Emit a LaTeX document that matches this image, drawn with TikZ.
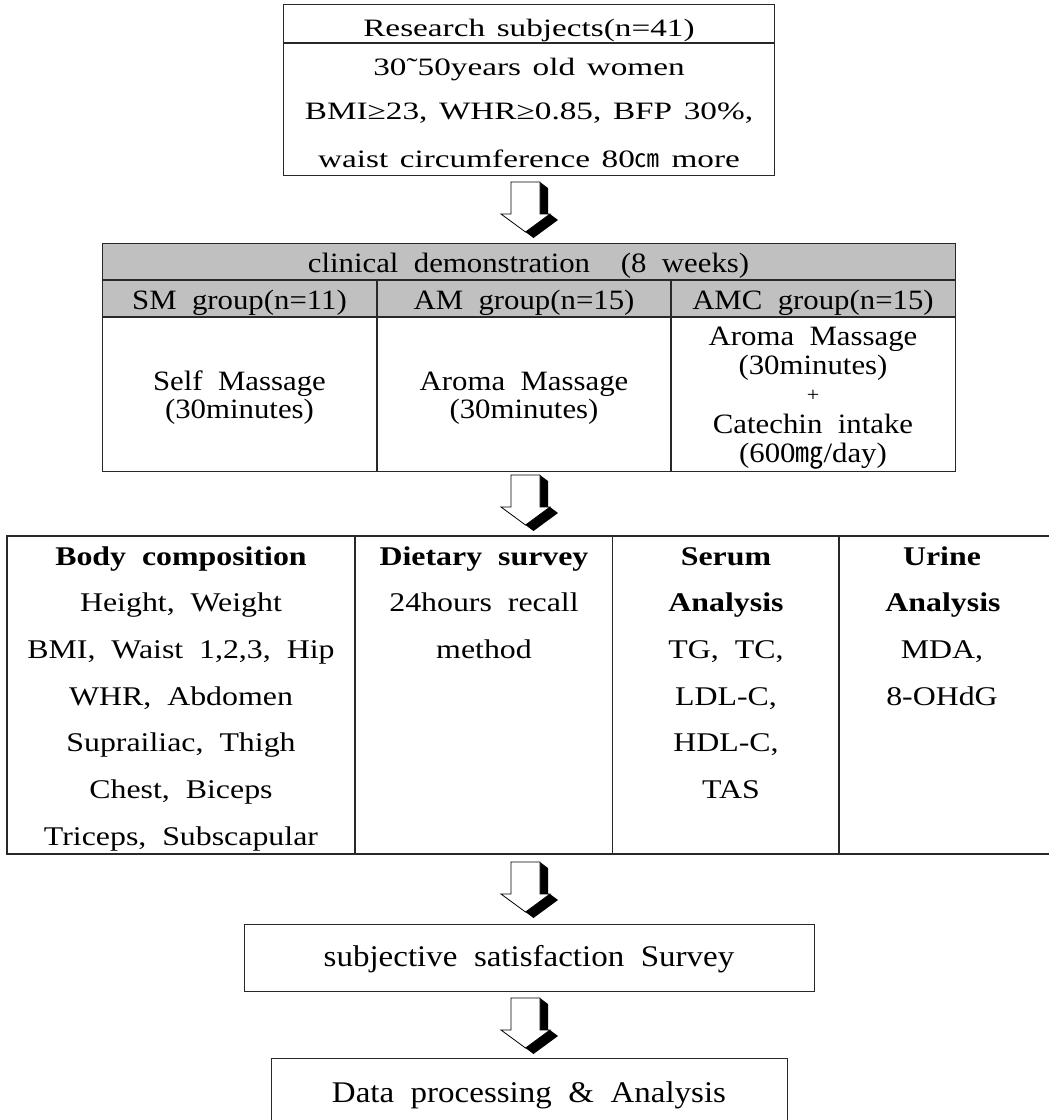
\documentclass[tikz,border=0pt]{standalone}
\usepackage{fontspec}
\setmainfont{Liberation Serif}[FakeStretch=1.1,WordSpace=2]
\newfontfamily\topfont{Liberation Serif}[FakeStretch=1.33,WordSpace=1.4]
\newfontfamily\tabfont{Liberation Serif}[FakeStretch=1.18,WordSpace=2]
\newfontfamily\cjk{Noto Sans CJK KR}
\definecolor{hdr}{RGB}{192,192,192}
\definecolor{rule}{RGB}{40,40,40}
\tikzset{
  txt/.style={inner sep=0pt, anchor=base},
  topt/.style={txt, font=\topfont\fontsize{25}{28}\selectfont},
  clin/.style={txt, font=\fontsize{28}{30}\selectfont},
  tabt/.style={txt, font=\tabfont\fontsize{27}{30}\selectfont},
  tabb/.style={txt, font=\tabfont\bfseries\fontsize{27}{30}\selectfont},
  bott/.style={txt, font=\fontsize{30}{32}\selectfont},
  frame/.style={draw=rule, line width=1.2pt},
  boxnode/.style={frame, anchor=north west, inner sep=0pt},
  barrow/.pic={
    \fill[black] (29,0) -- (37,6) -- (37,38) -- (29,32) -- cycle;
    \fill[black] (39,32) -- (47,38) -- (22.5,56) -- (14.5,50) -- cycle;
    \draw[fill=white, line width=0.8pt, line join=miter]
      (0,0) -- (29,0) -- (29,32) -- (39,32) -- (14.5,50) -- (-10,32) -- (0,32) -- cycle;
  }
}
\begin{document}
\begin{tikzpicture}[x=1pt,y=-1pt]
\useasboundingbox (0,0) rectangle (1049,1120);
\fill[white] (0,0) rectangle (1049,1120);

% ---------- top box ----------
\node[boxnode, minimum width=491pt, minimum height=171pt] (subj) at (283,4) {};
\draw[frame] (283,43) -- (774,43);
\node[topt] (subjhead) at (529,36) {Research subjects(n=41)};
\node[topt] (subj1) at (529,75) {30˜50years old women};
\node[topt] (subj2) at (529,119.5) {BMI≥23, WHR≥0.85, BFP 30\%,};
\node[topt] (subj3) at (529,167) {waist circumference 80{\cjk ㎝} more};

\pic at (511,182) {barrow};

% ---------- clinical table ----------
\fill[hdr] (102,243) rectangle (955,317);
\node[boxnode, minimum width=853pt, minimum height=228pt] (clinbox) at (102,243) {};
\draw[frame] (102,280) -- (955,280);
\draw[frame] (102,317) -- (955,317);
\draw[frame] (377,280) -- (377,471);
\draw[frame] (671,280) -- (671,471);
\node[clin] (clinhead) at (528.5,272) {clinical demonstration\ \ (8 weeks)};
\node[clin] (smg) at (239.5,309) {SM group(n=11)};
\node[clin] (amg) at (524,309) {AM group(n=15)};
\node[clin] (amcg) at (813,309) {AMC group(n=15)};
\node[clin] (sm1) at (239.5,390) {Self Massage};
\node[clin] (sm2) at (239.5,418) {(30minutes)};
\node[clin] (am1) at (524,390) {Aroma Massage};
\node[clin] (am2) at (524,418) {(30minutes)};
\node[clin] (amc1) at (813,345.7) {Aroma Massage};
\node[clin] (amc2) at (813,374) {(30minutes)};
\node[txt, font=\fontsize{20}{22}\selectfont] (amcplus) at (813,401) {+};
\node[clin] (amc3) at (813,433) {Catechin intake};
\node[clin] (amc4) at (813,462) {(600{\cjk ㎎}/day)};

\pic at (511,475) {barrow};

% ---------- measurement table ----------
\draw[frame] (1049,536) -- (7,536) -- (7,854) -- (1049,854);
\draw[frame] (355,536) -- (355,854);
\draw[frame] (612.7,536) -- (612.7,854);
\draw[frame] (839,536) -- (839,854);
\node[tabb] (bodyh) at (181,565) {Body composition};
\node[tabt] (body1) at (181,611.7) {Height, Weight};
\node[tabt] (body2) at (181,658.3) {BMI, Waist 1,2,3, Hip};
\node[tabt] (body3) at (181,705) {WHR, Abdomen};
\node[tabt] (body4) at (181,751.7) {Suprailiac, Thigh};
\node[tabt] (body5) at (181,798.3) {Chest, Biceps};
\node[tabt] (body6) at (181,845) {Triceps, Subscapular};
\node[tabb] (dieth) at (484,565) {Dietary survey};
\node[tabt] (diet1) at (484,611.7) {24hours recall};
\node[tabt] (diet2) at (484,658.3) {method};
\node[tabb] (serh1) at (726,565) {Serum};
\node[tabb] (serh2) at (726,611.7) {Analysis};
\node[tabt] (ser1) at (726,658.3) {TG, TC,};
\node[tabt] (ser2) at (726,705) {LDL-C,};
\node[tabt] (ser3) at (726,751.7) {HDL-C,};
\node[tabt] (ser4) at (731,798.3) {TAS};
\node[tabb] (urih1) at (942,565) {Urine};
\node[tabb] (urih2) at (943,611.7) {Analysis};
\node[tabt] (uri1) at (942,658.3) {MDA,};
\node[tabt] (uri2) at (942,705) {8-OHdG};

\pic at (511,862) {barrow};

% ---------- bottom boxes ----------
\node[boxnode, minimum width=570pt, minimum height=67pt] (sat) at (244,924) {};
\node[bott] (sattext) at (529,966.7) {subjective satisfaction Survey};

\pic at (511,998) {barrow};

\node[boxnode, minimum width=516pt, minimum height=70pt] (data) at (271,1058) {};
\node[bott] (datatext) at (529,1102.7) {Data processing \& Analysis};
\end{tikzpicture}
\end{document}
